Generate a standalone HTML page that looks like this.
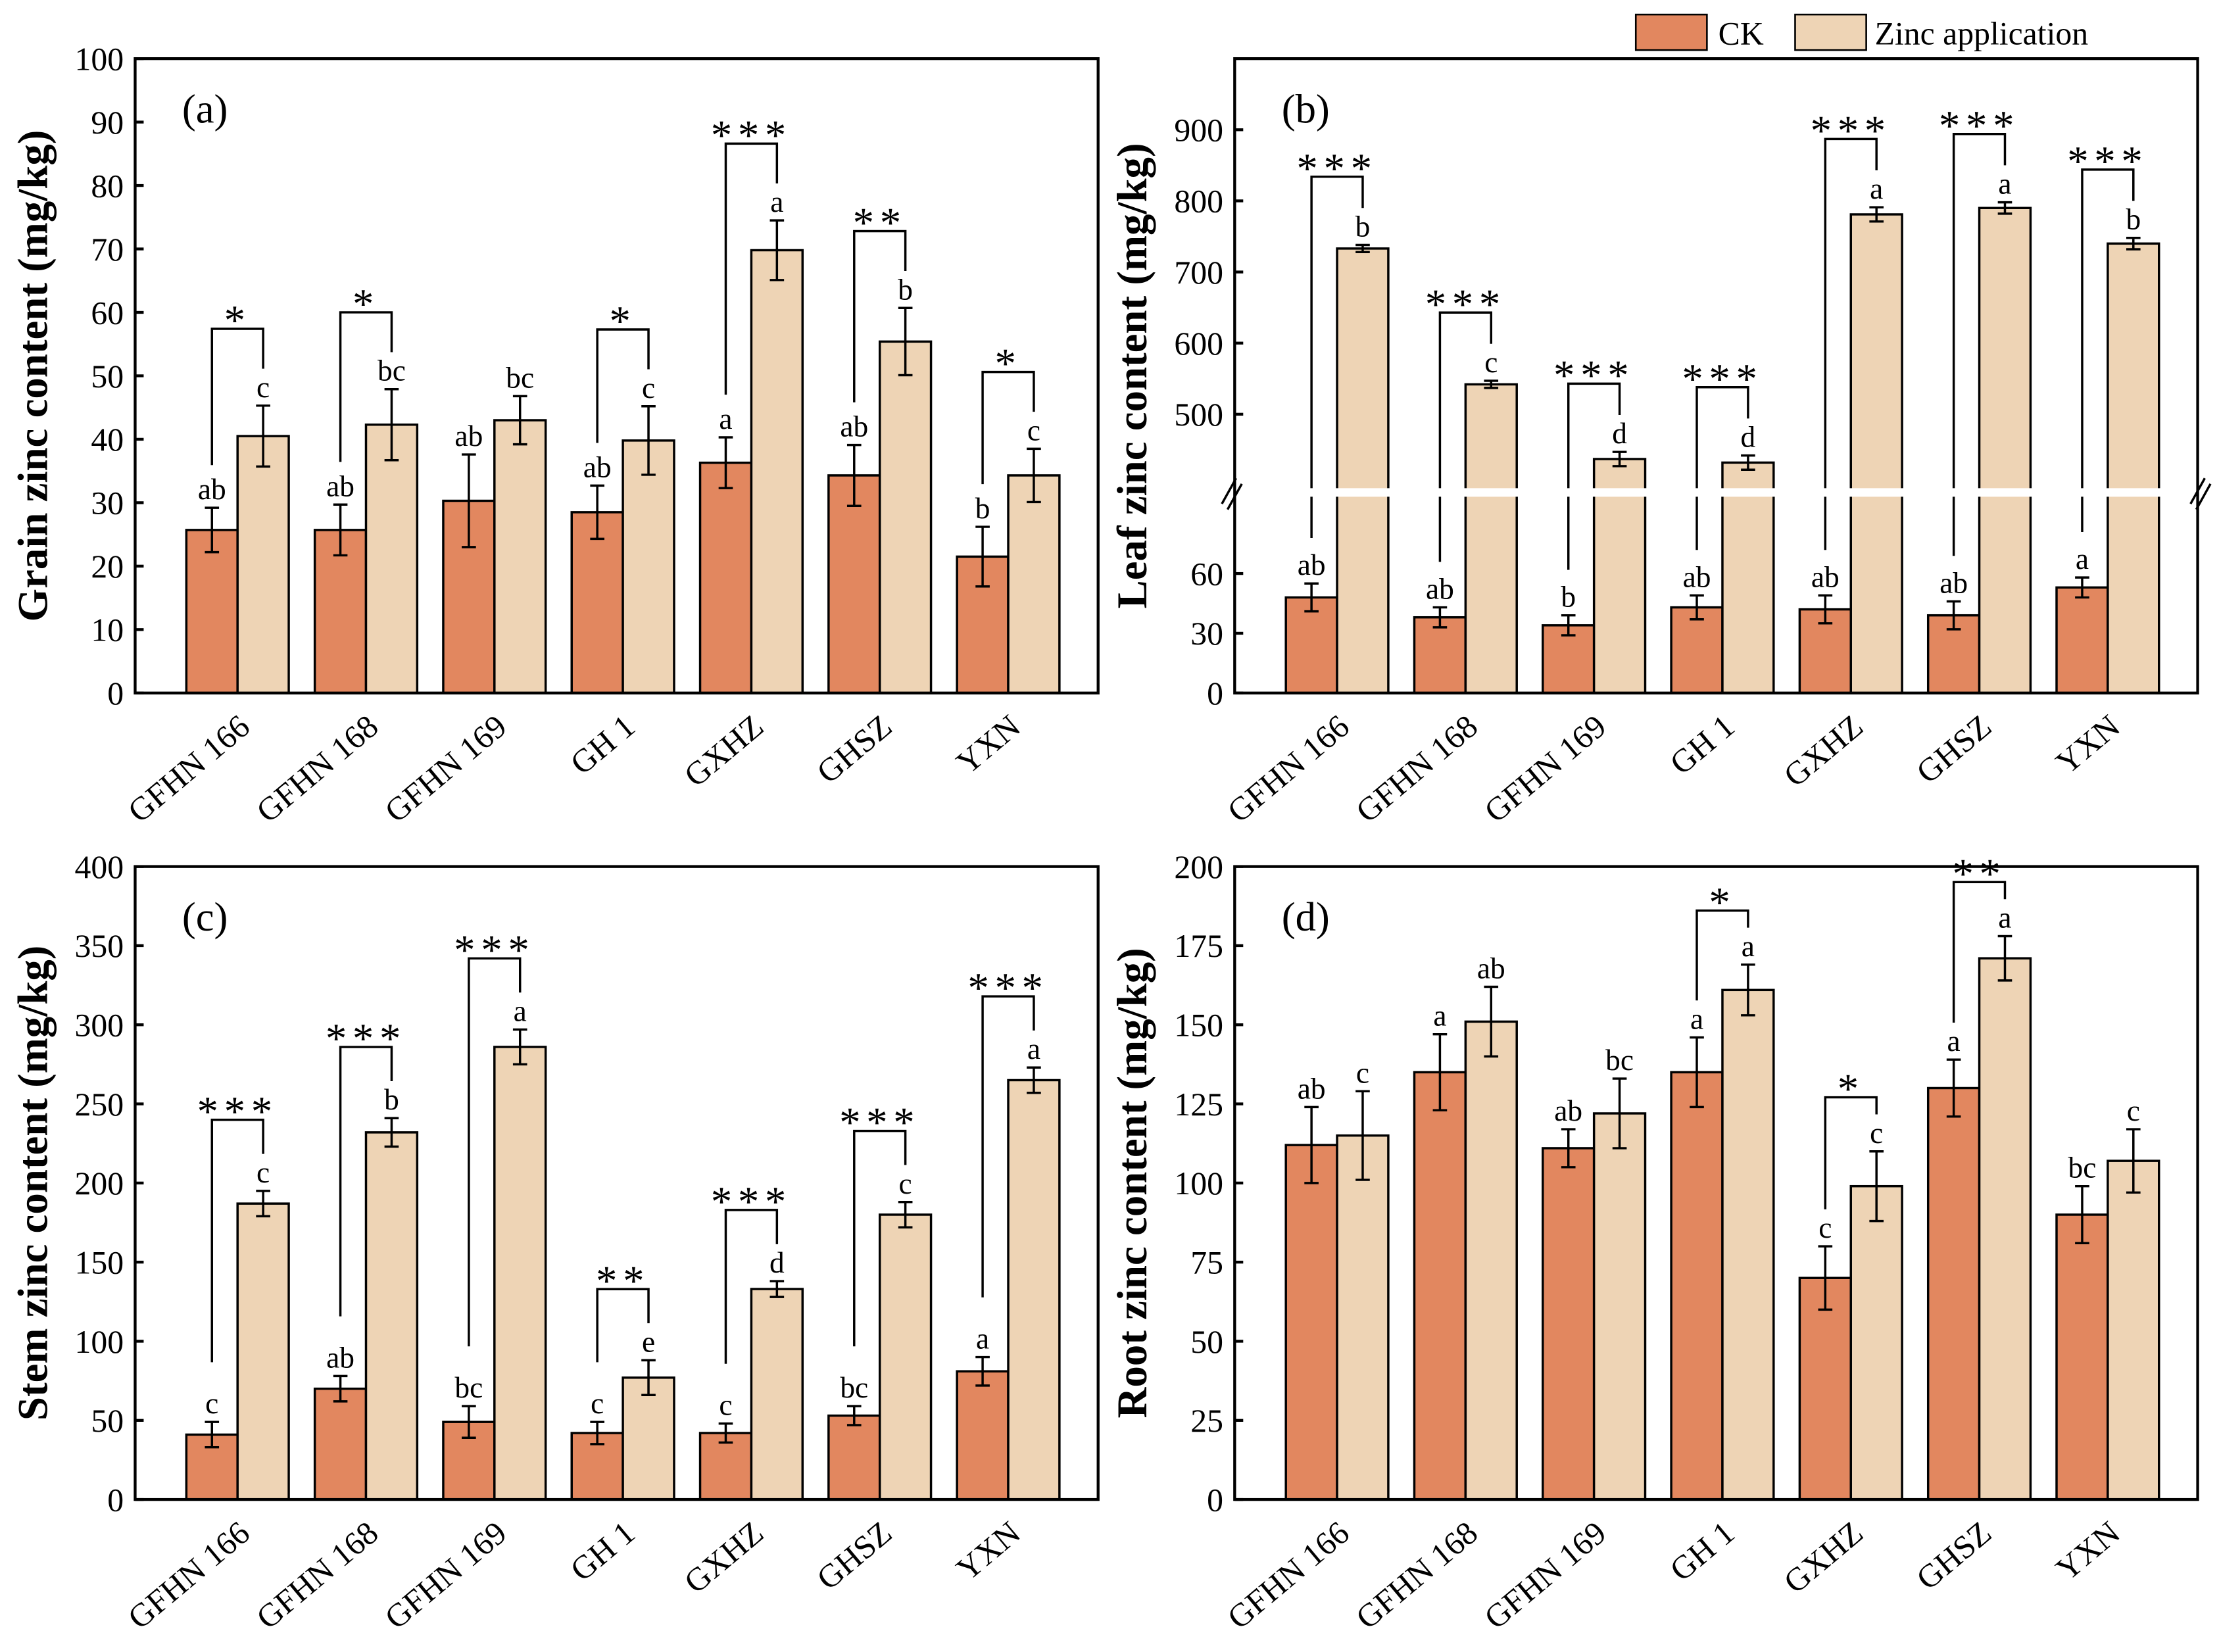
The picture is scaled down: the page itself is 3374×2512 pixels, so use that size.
<!DOCTYPE html>
<html><head><meta charset="utf-8"><style>html,body{margin:0;padding:0;background:#fff}svg{display:block}svg text{font-family:"Liberation Serif","DejaVu Serif",serif !important}</style></head>
<body>
<svg id="chart" xmlns="http://www.w3.org/2000/svg" width="3374" height="2512" viewBox="0 0 1560 1161"></svg>
<script>
const categories = ["GFHN 166","GFHN 168","GFHN 169","GH 1","GXHZ","GHSZ","YXN"];
const grainCK = [25.7,25.7,30.3,28.5,36.3,34.3,21.5];
const grainCKErr = [3.5,4,7.3,4.2,4,4.8,4.7];
const grainZn = [40.5,42.3,43,39.8,69.8,55.4,34.3];
const grainZnErr = [4.8,5.6,3.8,5.4,4.7,5.3,4.2];
const grainCKLet = ["ab","ab","ab","ab","a","ab","b"];
const grainZnLet = ["c","bc","bc","c","a","b","c"];
const grainSig = ["*","*","","*","***","**","*"];
const grainTicks = [0,10,20,30,40,50,60,70,80,90,100];

const leafCK = [48,38,34,43,42,39,53];
const leafCKErr = [7,5,5,6,7,7,5];
const leafZn = [733,542,437,432,781,790,740];
const leafZnErr = [5,5,10,10,10,8,8];
const leafCKLet = ["ab","ab","b","ab","ab","ab","a"];
const leafZnLet = ["b","c","d","d","a","a","b"];
const leafSig = ["***","***","***","***","***","***","***"];
const leafTicksLow = [0,30,60];
const leafTicksHigh = [500,600,700,800,900];

const stemCK = [41,70,49,42,42,53,81];
const stemCKErr = [8,8,10,7,6,6,9];
const stemZn = [187,232,286,77,133,180,265];
const stemZnErr = [8,9,11,11,5,8,8];
const stemCKLet = ["c","ab","bc","c","c","bc","a"];
const stemZnLet = ["c","b","a","e","d","c","a"];
const stemSig = ["***","***","***","**","***","***","***"];
const stemTicks = [0,50,100,150,200,250,300,350,400];

const rootCK = [112,135,111,135,70,130,90];
const rootCKErr = [12,12,6,11,10,9,9];
const rootZn = [115,151,122,161,99,171,107];
const rootZnErr = [14,11,11,8,11,7,10];
const rootCKLet = ["ab","a","ab","a","c","a","bc"];
const rootZnLet = ["c","ab","bc","a","c","a","c"];
const rootSig = ["","","","*","*","**",""];
const rootTicks = [0,25,50,75,100,125,150,175,200];

const NS="http://www.w3.org/2000/svg";
const svg=document.getElementById('chart');
const CKC="#E2875F", ZNC="#EED4B5";
function el(tag,attrs,parent,txt){const e=document.createElementNS(NS,tag);for(const k in attrs)e.setAttribute(k,attrs[k]);if(txt!==undefined){e.textContent=txt;e.setAttribute('style','font-family:"Liberation Serif","DejaVu Serif",serif');}(parent||svg).appendChild(e);return e;}

function panel(o){
  const g=el('g',{});
  
  
  const {x0,x1,y0,y1}=o;
  const xc=i=>x0+72+i*90.3;
  const bw=36;
  const Y=o.yScale;
  for(let i=0;i<7;i++){
    const c=xc(i);
    const pairs=[[o.ck,o.ckErr,o.ckLet,c-bw,CKC,'ck'],[o.zn,o.znErr,o.znLet,c,ZNC,'zinc']];
    for(const [vals,errs,lets,bx,col,nm] of pairs){
      const yt=Y(vals[i]);
      const r=el('rect',{x:bx,y:yt,width:bw,height:y1-yt,fill:col,stroke:'#000','stroke-width':1.6},g);
      
      
      const cx=bx+bw/2, ya=Y(vals[i]+errs[i]), yb=Y(vals[i]-errs[i]);
      el('path',{d:`M${cx},${ya}V${yb}M${cx-5},${ya}H${cx+5}M${cx-5},${yb}H${cx+5}`,stroke:'#000','stroke-width':1.6,fill:'none'},g);
      el('text',{x:cx,y:ya-6,'text-anchor':'middle','font-size':21},g,lets[i]);
    }
    if(o.sig[i]){
      const zTop=Y(o.zn[i]+o.znErr[i]), cTop=Y(o.ck[i]+o.ckErr[i]);
      const bt=Math.min(zTop,cTop)-o.br;
      const lx=c-bw/2, rx=c+bw/2;
      const s=el('path',{d:`M${lx},${cTop-o.legGap}V${bt}H${rx}V${zTop-26}`,stroke:'#000','stroke-width':1.6,fill:'none'},g);
      
      
      el('text',{x:c,y:bt+4,'text-anchor':'middle','font-size':30,'letter-spacing':4},g,o.sig[i]);
    }
    const t=el('text',{transform:`translate(${c+10},${y1+26}) rotate(-40)`,'text-anchor':'end','font-size':23},g,categories[i]);
    
    
  }
  for(const v of o.ticks){
    const y=Y(v);
    el('line',{x1:x0,x2:x0+6,y1:y,y2:y,stroke:'#000','stroke-width':2},g);
    el('text',{x:x0-8,y:y+8,'text-anchor':'end','font-size':23},g,v);
  }
  if(o.brk){
    el('rect',{x:x0+2,y:o.brk-3,width:x1-x0-4,height:6,fill:'#fff'},g);
    el('path',{d:`M${x0-9},${o.brk+8}L${x0+1},${o.brk-10}M${x0-5},${o.brk+12}L${x0+5},${o.brk-6}M${x1-5},${o.brk+8}L${x1+5},${o.brk-10}M${x1-1},${o.brk+12}L${x1+9},${o.brk-6}`,stroke:'#000','stroke-width':1.6},g);
  }
  el('rect',{x:x0,y:y0,width:x1-x0,height:y1-y0,fill:'none',stroke:'#000','stroke-width':2},g);
  const pl=el('text',{x:x0+33,y:y0+45,'font-size':29},g,'('+o.id+')');
  
  
  const yl=el('text',{transform:`translate(${x0-62},${(y0+y1)/2}) rotate(-90)`,'text-anchor':'middle','font-size':30,'font-weight':'bold'},g,o.ylab);
  
  
}

panel({id:'a',x0:95,x1:772,y0:41,y1:487,yScale:v=>487-v*4.46,ticks:grainTicks,ck:grainCK,ckErr:grainCKErr,zn:grainZn,znErr:grainZnErr,ckLet:grainCKLet,znLet:grainZnLet,sig:grainSig,br:54,legGap:30,ylab:'Grain zinc content (mg/kg)'});
panel({id:'b',x0:868,x1:1545,y0:41,y1:487,yScale:v=>v<=100?487-v*1.4:291-(v-500)*0.5,ticks:leafTicksLow.concat(leafTicksHigh),ck:leafCK,ckErr:leafCKErr,zn:leafZn,znErr:leafZnErr,ckLet:leafCKLet,znLet:leafZnLet,sig:leafSig,br:48,legGap:32,brk:346,ylab:'Leaf zinc content (mg/kg)'});
panel({id:'c',x0:95,x1:772,y0:609,y1:1054,yScale:v=>1054-v*1.1125,ticks:stemTicks,ck:stemCK,ckErr:stemCKErr,zn:stemZn,znErr:stemZnErr,ckLet:stemCKLet,znLet:stemZnLet,sig:stemSig,br:50,legGap:42,ylab:'Stem zinc content (mg/kg)'});
panel({id:'d',x0:868,x1:1545,y0:609,y1:1054,yScale:v=>1054-v*2.225,ticks:rootTicks,ck:rootCK,ckErr:rootCKErr,zn:rootZn,znErr:rootZnErr,ckLet:rootCKLet,znLet:rootZnLet,sig:rootSig,br:38,legGap:26,ylab:'Root zinc content (mg/kg)'});

const lg=el('g',{});


el('rect',{x:1150,y:10,width:50,height:25,fill:CKC,stroke:'#000','stroke-width':1.2},lg);
el('text',{x:1208,y:31,'font-size':23},lg,'CK');
el('rect',{x:1262,y:10,width:50,height:25,fill:ZNC,stroke:'#000','stroke-width':1.2},lg);
el('text',{x:1318,y:31,'font-size':23},lg,'Zinc application');
</script>
</body></html>
